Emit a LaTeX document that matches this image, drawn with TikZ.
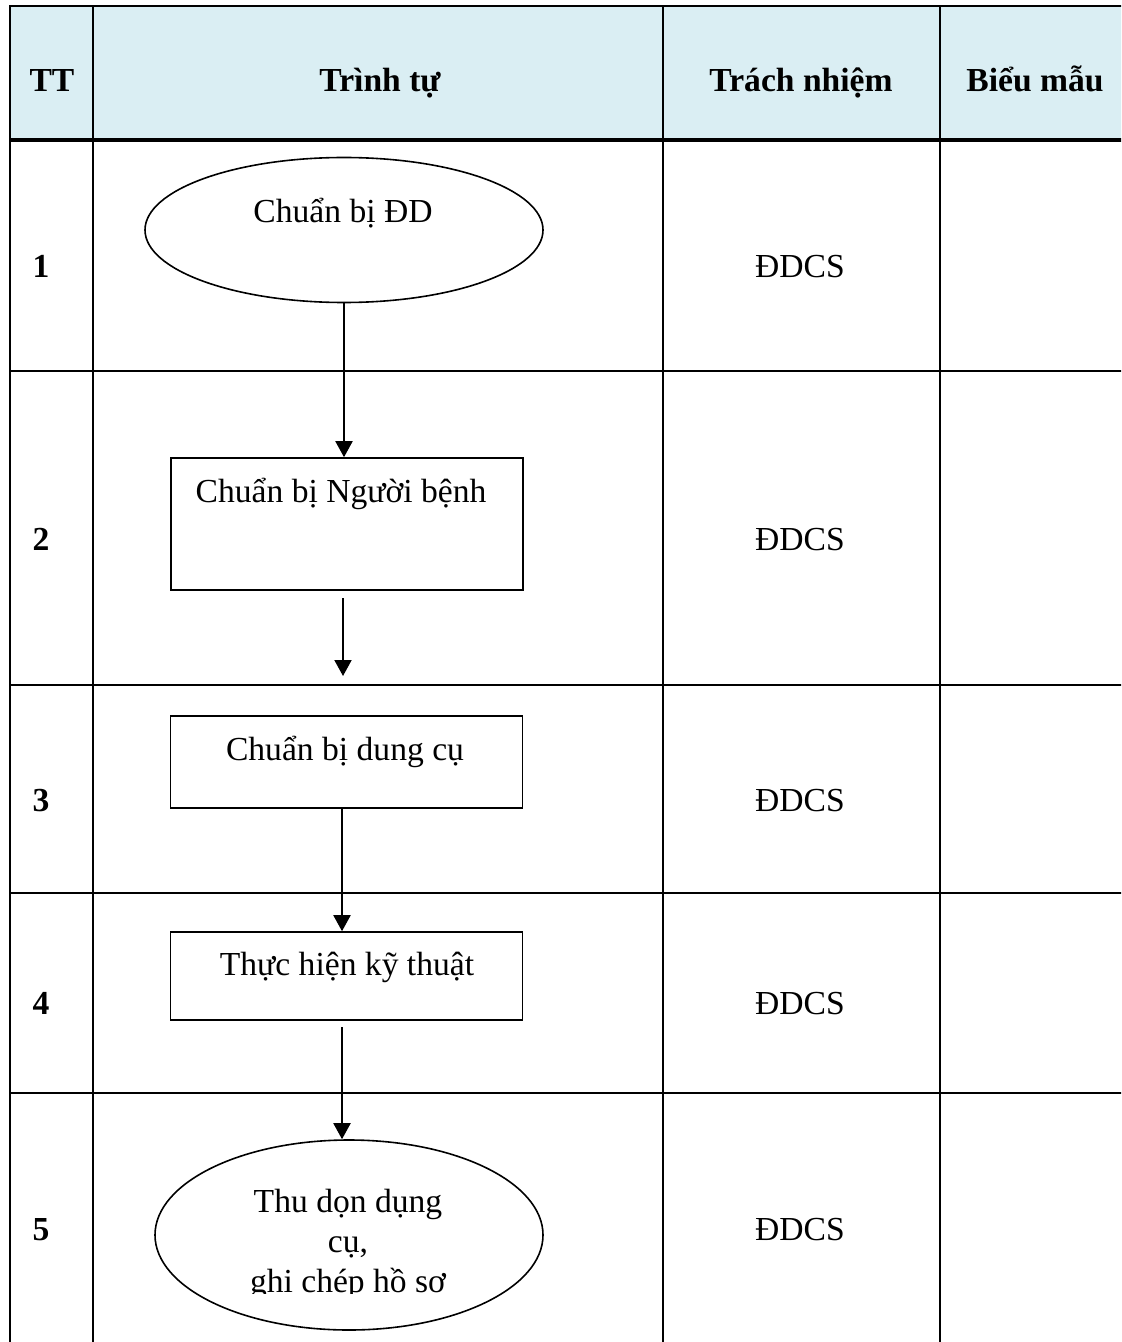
\documentclass[tikz,border=0pt]{standalone}
\usepackage{fontspec}
\setmainfont{Liberation Serif}
\usetikzlibrary{arrows.meta, shapes.geometric}
\definecolor{headblue}{HTML}{DAEEF3}

\begin{document}
\begin{tikzpicture}[
  x=0.5pt, y=-0.5pt,
  every node/.style={font=\fontsize{16.8}{20}\selectfont},
  grid/.style={line width=1.3pt},
  head/.style={font=\fontsize{16.8}{20}\selectfont\bfseries, anchor=base, inner sep=0pt},
  txt/.style={anchor=base, inner sep=0pt},
  stepbox/.style={draw, line width=0.8pt, minimum width=176pt, inner sep=0pt},
  oval/.style={draw, ellipse, line width=0.8pt, inner sep=0pt},
  arrow/.style={-{Triangle[width=8.5pt,length=8pt]}, line width=1pt}
]

\useasboundingbox (0,0) rectangle (1121,1342);

% table
\begin{scope}
  \clip (0,0) rectangle (1121,1342);
  \fill[headblue] (10,6) rectangle (1135,140);
  \draw[grid] (10,1350) -- (10,6) -- (1135,6);
  \foreach \x in {93,663,940}
    \draw[grid] (\x,6) -- (\x,1350);
  \draw[line width=1.6pt] (10,140) -- (1135,140);
  \foreach \y in {371,685,893,1093}
    \draw[grid] (10,\y) -- (1135,\y);
\end{scope}

% header
\node[head] (hTT) at (52,92) {TT};
\node[head] (hstep) at (380,92) {Trình tự};
\node[head] (hresp) at (801,92) {Trách nhiệm};
\node[head] (hform) at (1035,92) {Biểu mẫu};

% rows
\foreach \n/\y in {1/278,2/550,3/811,4/1014,5/1240} {
  \node[txt, font=\fontsize{16.8}{20}\selectfont\bfseries] (n\n) at (41,\y) {\n};
  \node[txt] (r\n) at (800,\y) {ĐDCS};
}

% steps
\node[oval, minimum width=199pt, minimum height=72.5pt] (e1) at (344,230) {};
\node[stepbox, minimum height=66pt] (b2) at (347,524) {};
\node[stepbox, minimum height=46pt] (b3) at (346.5,762) {};
\node[stepbox, minimum height=44pt] (b4) at (346.5,976) {};
\node[oval, minimum width=194pt, minimum height=95pt] (e5) at (349,1235) {};

\node[txt] (t1) at (343,223) {Chuẩn bị ĐD};
\node[txt] (t2) at (341,502) {Chuẩn bị Người bệnh};
\node[txt] (t3) at (345,760) {Chuẩn bị dung cụ};
\node[txt] (t4) at (347,975) {Thực hiện kỹ thuật};
\begin{scope}
  \clip (100,1100) rectangle (600,1293);
  \node[txt, align=center] (t5) at (348,1292) {Thu dọn dụng\\cụ,\\ghi chép hồ sơ};
\end{scope}

% connectors
\coordinate (a2) at (343,598);
\coordinate (a2e) at (343,676);
\coordinate (a4) at (342,1027);
\draw[arrow] (e1.south) -- (e1.south |- b2.north);
\draw[arrow] (a2) -- (a2e);
\draw[arrow] (b3.south -| a4) -- (b4.north -| a4);
\draw[arrow] (a4) -- (a4 |- e5.north);

\end{tikzpicture}
\end{document}
